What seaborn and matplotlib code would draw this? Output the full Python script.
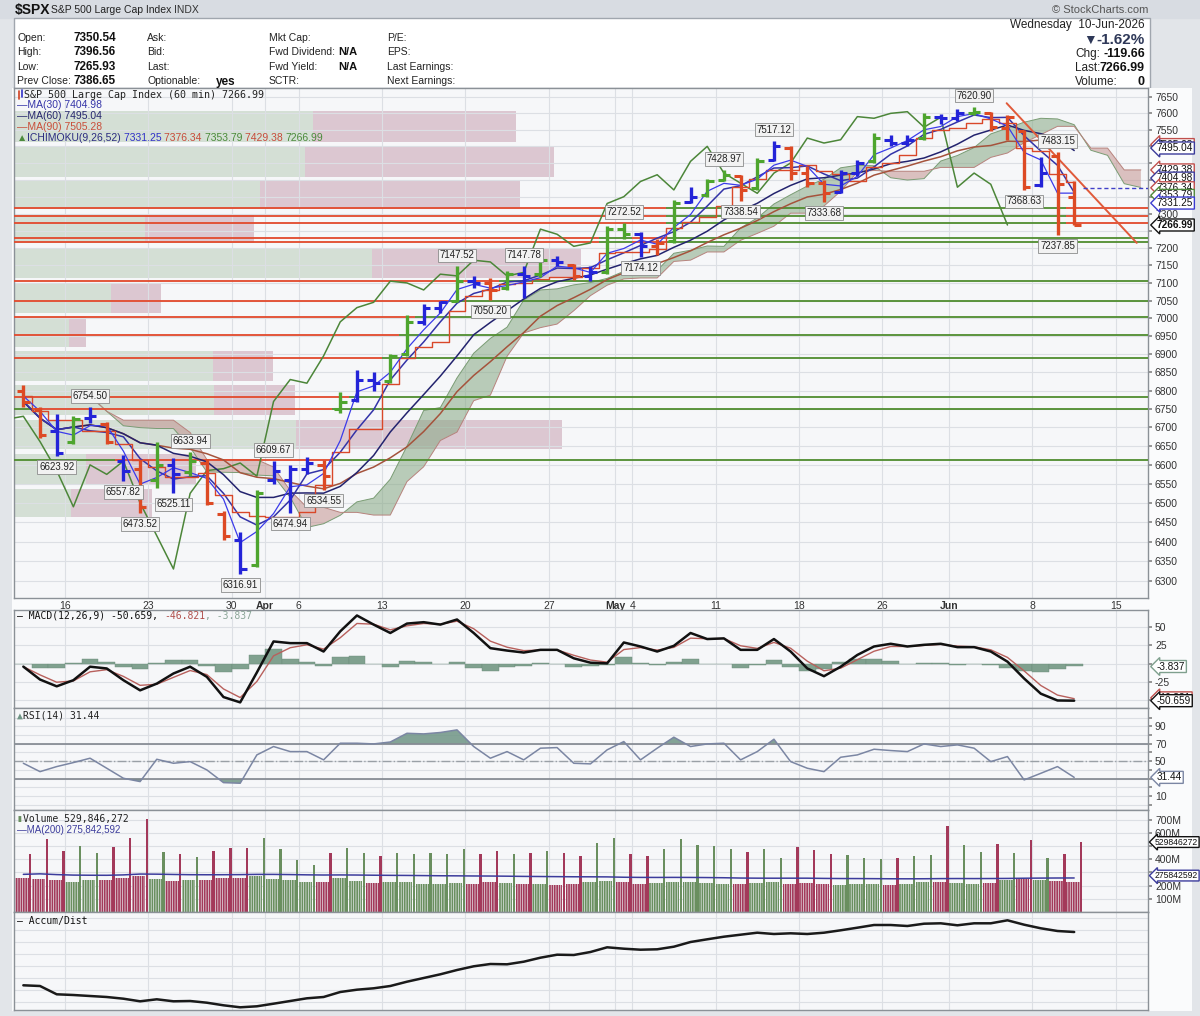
import numpy as np
import pandas as pd
import matplotlib
matplotlib.use("Agg")
import matplotlib.pyplot as plt
from matplotlib.patches import Rectangle
from matplotlib.ticker import NullLocator
import seaborn as sns

sns.set_theme(style="white")
plt.rcParams["font.family"] = ["Liberation Sans", "DejaVu Sans"]
plt.rcParams["hatch.linewidth"] = 0.5

W, H = 1200, 1016
MONO = ["DejaVu Sans Mono", "DejaVu Sans"]

holidays = ["2026-04-03", "2026-05-25"]

open_ = [6800, 6750, 6690, 6660, 6725, 6710, 6610, 6590, 6560, 6600,
         6580, 6605, 6470, 6405, 6340, 6560, 6560, 6590, 6600, 6750,
         6775, 6830, 6825, 6900, 6990, 7030, 7050, 7105, 7100, 7085,
         7125, 7125, 7165, 7150, 7120, 7130, 7255, 7240, 7205, 7220,
         7335, 7355, 7398, 7410, 7375, 7460, 7495, 7420, 7390, 7365,
         7420, 7455, 7520, 7510, 7525, 7590, 7585, 7600, 7600, 7555,
         7545, 7385, 7470, 7350.54]
high = [6815, 6755, 6735, 6730, 6754.50, 6715, 6625, 6612, 6660, 6618,
        6633.94, 6615, 6478, 6425, 6535, 6609.67, 6600, 6620, 6612, 6795,
        6855, 6850, 6900, 7010, 7040, 7050, 7147.52, 7120, 7115, 7135,
        7147.78, 7172, 7178, 7155, 7148, 7265, 7272.52, 7248, 7225, 7340,
        7380, 7402, 7428.97, 7415, 7465, 7517.12, 7500, 7440, 7400, 7430,
        7460, 7540, 7535, 7535, 7600, 7598, 7612, 7620.90, 7605, 7595,
        7550, 7468, 7483.15, 7396.56]
low = [6755, 6672, 6623.92, 6655, 6712, 6655, 6557.82, 6473.52, 6540, 6525.11,
       6570, 6495, 6405, 6316.91, 6335, 6550, 6474.94, 6575, 6534.55, 6738,
       6770, 6800, 6820, 6895, 6980, 7015, 7045, 7085, 7050.20, 7080,
       7058, 7118, 7148, 7108, 7105, 7125, 7225, 7174.12, 7180, 7215,
       7330, 7350, 7395, 7338.54, 7370, 7455, 7400, 7380, 7333.68, 7360,
       7410, 7450, 7500, 7500, 7520, 7568, 7578, 7595, 7545, 7518,
       7368.63, 7380, 7237.85, 7265.93]
close = [6770, 6680, 6632, 6722, 6730, 6662, 6585, 6490, 6600, 6575,
         6610, 6500, 6415, 6330, 6525, 6585, 6590, 6605, 6570, 6770,
         6830, 6820, 6895, 6990, 7030, 7045, 7105, 7100, 7080, 7125,
         7120, 7165, 7160, 7120, 7130, 7255, 7240, 7205, 7215, 7330,
         7350, 7395, 7415, 7370, 7455, 7500, 7420, 7390, 7360, 7420,
         7450, 7525, 7510, 7520, 7590, 7585, 7600, 7605, 7558, 7588,
         7378, 7420, 7386.65, 7266.99]
# elder-impulse bar colour seen on each day (g / b / r)
impulse = list("rrbgbrbrgb" "grrbgbbbrg" "bbggbbgbrg" "bgbrbggbrg"
               "bggrgbrrrb" "bgbbgbbgrr" "rbrr")

macd = [-4, -21.7, -31, -22.6, -4.1, -6.5, -22.6, -36.5, -27.3, -13.4,
        -4.1, -18, -45.7, -53, -12, 30.5, 28.2, 28.2, 16.7, 44.4,
        66.1, 53.6, 42.1, 55, 56.9, 53.6, 60.6, 42.1, 21.3, 18,
        15.3, 19, 19, 7.4, 1.4, 0.5, 29.1, 23.6, 16.7, 24.5,
        42.1, 33.8, 34.7, 19, 19, 33.8, 16.7, -6.5, -17.1, -4.1,
        12, 23.6, 27.3, 23.6, 25.9, 27.3, 22.7, 22.7, 16.7, 2.8,
        -20.3, -41.1, -50.4, -50.66]
rsi = [47.6, 38, 43.8, 48.4, 53.4, 41.9, 30.4, 26.6, 52.2, 47.6,
       49.5, 40, 25.4, 24.7, 57.2, 66.8, 61, 61, 51.5, 70.6,
       70.6, 69.8, 72, 82, 81.3, 82.9, 85.9, 66.8, 53.4, 61,
       51.5, 64.9, 65.6, 47.6, 46.9, 63, 72.5, 51.5, 64.9, 77.5,
       66.8, 69.8, 70.6, 51.5, 61, 75.2, 49.5, 41.9, 38, 54.5,
       57.2, 63.7, 62.2, 61, 69.8, 66.8, 68.7, 64.9, 49.5, 55.3,
       28.5, 36.1, 43.8, 31.44]
# hourly volume in millions: closing-hour spike and the usual hourly level
vol_close = [437, 550, 462, 500, 450, 492, 563, 707, 455, 437,
             419, 462, 482, 482, 558, 475, 391, 354, 450, 482,
             450, 424, 450, 437, 450, 442, 475, 437, 462, 437,
             450, 462, 450, 424, 520, 563, 437, 424, 475, 550,
             505, 500, 475, 455, 475, 412, 492, 470, 442, 434,
             407, 399, 412, 424, 432, 652, 505, 457, 513, 450,
             543, 412, 442, 530]
vol_hour = [260, 250, 240, 230, 245, 240, 255, 270, 250, 235,
            240, 245, 255, 260, 270, 250, 240, 230, 225, 260,
            235, 220, 225, 230, 215, 210, 220, 215, 225, 220,
            215, 210, 205, 215, 225, 235, 225, 215, 220, 230,
            225, 220, 215, 210, 220, 225, 215, 220, 210, 205,
            215, 210, 205, 210, 225, 230, 220, 215, 220, 240,
            250, 245, 235, 230]
accum_dist = [26.7, 26.0, 17.7, 17.0, 16.0, 15.0, 13.3, 10.7, 12.7, 10.7,
              11.0, 9.3, 6.7, 4.7, 5.7, 8.3, 11.0, 13.7, 15.0, 20.0,
              22.3, 23.7, 26.0, 30.3, 34.0, 37.7, 42.0, 45.7, 48.0, 47.7,
              50.3, 54.3, 57.3, 57.0, 60.0, 64.7, 63.3, 62.3, 62.7, 65.3,
              70.0, 72.7, 75.3, 77.3, 79.3, 78.0, 78.7, 78.0, 79.3, 81.7,
              84.3, 87.0, 87.0, 86.0, 88.3, 88.7, 86.7, 88.7, 88.7, 91.7,
              87.3, 83.7, 81.0, 80.0]

# volume by price zones
vbp_edges = [7613, 7505, 7403, 7306, 7208, 7107, 7009, 6914, 6821, 6727, 6636, 6543, 6458]
vbp_up = [29.8, 29.0, 24.5, 13.1, 35.7, 9.7, 5.5, 19.8, 19.9, 28.1, 7.2, 5.7]
vbp_down = [20.2, 24.8, 25.9, 10.8, 20.8, 4.9, 1.7, 6.0, 8.1, 26.5, 10.9, 8.1]

# drawn support / resistance levels and the falling trend line
sr_levels = [7316, 7293, 7273, 7229, 7218, 7106, 7050, 7004, 6953, 6889, 6783, 6749, 6612]
trend_day = [59.45, 67.25]
trend_price = [7631, 7215]

high_marks = [4, 10, 15, 26, 30, 36, 42, 45, 57, 62]
low_marks = [2, 6, 7, 9, 13, 16, 18, 28, 37, 43, 48, 60, 62]

ma_last = [7404.98, 7495.04, 7505.28]
ichi_last = [7331.25, 7376.34, 7353.79, 7429.38, 7266.99]
macd_last = [-50.659, -46.821, -3.837]
rsi_last = 31.44
vol_last, vol_ma_last = 529846272, 275842592

# ---- derived series ----
n = len(close)
xd = np.arange(n) + 0.5
s_hi, s_lo, s_cl = pd.Series(high), pd.Series(low), pd.Series(close)
ma30 = s_cl.rolling(4, min_periods=1).mean()
ma60 = s_cl.rolling(9, min_periods=1).mean()
ma90 = s_cl.rolling(13, min_periods=1).mean()
tenkan = (s_hi.rolling(2, min_periods=1).max() + s_lo.rolling(2, min_periods=1).min()) / 2
kijun = (s_hi.rolling(4, min_periods=1).max() + s_lo.rolling(4, min_periods=1).min()) / 2
span_a = ((tenkan + kijun) / 2).to_numpy()
span_b = ((s_hi.rolling(7, min_periods=1).max() + s_lo.rolling(7, min_periods=1).min()) / 2).to_numpy()
shift = 4
macd_s = pd.Series(macd)
signal = macd_s.ewm(alpha=0.64, adjust=False).mean()
hist = macd_s - signal
vol_avg = (6 * np.array(vol_hour) + np.array(vol_close)) / 7
vol_ma = pd.Series(vol_avg).rolling(29, min_periods=1).mean()

cal = pd.bdate_range("2026-03-11", "2026-06-17")
cal = cal[~cal.isin(pd.to_datetime(holidays))]
tick_pos, tick_lab, tick_month = [], [], []
for i in range(1, len(cal)):
    d, p = cal[i], cal[i - 1]
    if d.month != p.month:
        tick_pos.append(i); tick_lab.append(d.strftime("%b")); tick_month.append(True)
    elif d.isocalendar().week != p.isocalendar().week:
        tick_pos.append(i); tick_lab.append(str(d.day)); tick_month.append(False)

X0 = (14 - 15) / 16.68
X1 = (1148 - 15) / 16.68

G_BAR, B_BAR, R_BAR = "#4ea52e", "#2424d8", "#dd4a24"
GREEN_L, RED_L = "#4f8c2f", "#e2492c"
VG, VR = "#6a8f5f", "#a3395a"

fig = plt.figure(figsize=(W / 100, H / 100), dpi=100)
fig.patch.set_facecolor("#e2e5e9")

bg = fig.add_axes([0, 0, 1, 1], zorder=-5)
bg.set_xlim(0, W); bg.set_ylim(H, 0); bg.set_axis_off()
bg.add_patch(Rectangle((0, 0), W, 18, color="#d8dce2"))
bg.add_patch(Rectangle((14, 18), 1136, 70, fc="white", ec="#a0a6ae", lw=1))
bg.add_patch(Rectangle((12, 88), 1180, 923, fc="#fafbfc", ec="none"))


def panel(y0, y1, log=False):
    a = fig.add_axes([14 / W, 1 - y1 / H, (1148 - 14) / W, (y1 - y0) / H])
    if log:
        a.set_yscale("log")
        a.yaxis.set_minor_locator(NullLocator())
    a.set_facecolor("#f6f7f9")
    for s in a.spines.values():
        s.set_color("#8b9197"); s.set_linewidth(1)
    a.set_xlim(X0, X1)
    a.set_xticks(tick_pos)
    a.grid(True, color="#dcdfe4", lw=0.8)
    a.set_axisbelow(True)
    a.yaxis.tick_right()
    a.tick_params(axis="y", length=3, pad=2, labelsize=7.5, labelcolor="#333", color="#888")
    a.tick_params(axis="x", length=0, labelbottom=False)
    return a


def tag(a, val, txt, ec, bold=False, size=7.2, dx=9):
    a.annotate(txt, xy=(1, val), xycoords=a.get_yaxis_transform(), xytext=(dx, 0),
               textcoords="offset pixels", ha="left", va="center", fontsize=size,
               fontweight="bold" if bold else "normal", color="#111",
               bbox=dict(boxstyle="larrow,pad=0.1", fc="white", ec=ec, lw=1.0),
               annotation_clip=False, zorder=10)


def tick_labels(ticks, tag_vals, to_px, fmt):
    # a tick label that would sit under a value tag is left blank
    return ["" if any(abs(to_px(t) - to_px(v)) < 9 for v in tag_vals) else fmt(t) for t in ticks]


# ---- price panel ----
ax = panel(88, 598, log=True)
main_tags = [ma_last[2], ma_last[1], ichi_last[3], ma_last[0], ichi_last[1], ichi_last[2], ichi_last[0], ichi_last[4]]
ytk = np.arange(6300, 7651, 50)
ax.set_yticks(ytk)
ax.set_yticklabels(tick_labels(ytk, main_tags, lambda v: 2492 * np.log(v), lambda v: str(v)))
ax.yaxis.set_minor_locator(NullLocator())
ax.set_xticklabels(tick_lab)
ax.tick_params(axis="x", labelbottom=True, labelsize=7.5, pad=2, labelcolor="#333")
for lab, m in zip(ax.get_xticklabels(), tick_month):
    if m:
        lab.set_fontweight("bold")

vb_tot = np.array(vbp_up) + np.array(vbp_down)
scale = 0.5 / vb_tot.max()
ytr = ax.get_yaxis_transform()
for k in range(len(vbp_up)):
    hi, lo = vbp_edges[k] / 1.0009, vbp_edges[k + 1] * 1.0009
    fu, fd = vbp_up[k] * scale, vbp_down[k] * scale
    ax.add_patch(Rectangle((0, lo), fu, hi - lo, transform=ytr, fc="#9fb89b", alpha=0.38, lw=0, zorder=0.4))
    ax.add_patch(Rectangle((fu, lo), fd, hi - lo, transform=ytr, fc="#b27a90", alpha=0.38, lw=0, zorder=0.4))

xs = xd + shift
ax.fill_between(xs, span_a, span_b, where=span_a >= span_b, interpolate=True, color="#86a883", alpha=0.55, lw=0, zorder=1)
ax.fill_between(xs, span_a, span_b, where=span_a < span_b, interpolate=True, color="#c39490", alpha=0.55, lw=0, zorder=1)
ax.plot(xs, span_a, color="#7a9c74", lw=0.7, zorder=1.2)
ax.plot(xs, span_b, color="#b7837d", lw=0.7, zorder=1.2)

cl = np.asarray(close)
for lev in sr_levels:
    up = cl > lev
    edges = [X0] + [i for i in range(1, n) if up[i] != up[i - 1]] + [X1]
    for k in range(len(edges) - 1):
        state = up[0] if k == 0 else up[edges[k]]
        ax.hlines(lev, edges[k], edges[k + 1], color=GREEN_L if state else RED_L, lw=1.3, zorder=3)

sns.lineplot(x=xd - shift, y=close, ax=ax, color="#4c8639", lw=1.1, zorder=4)
sns.lineplot(x=xd, y=ma90, ax=ax, color="#a5533c", lw=1.1, zorder=4)
sns.lineplot(x=xd, y=ma60, ax=ax, color="#23236e", lw=1.1, zorder=4)
sns.lineplot(x=xd, y=ma30, ax=ax, color="#3333a8", lw=1.1, zorder=4)
ax.plot(xd, kijun, drawstyle="steps-mid", color="#d9482a", lw=1.0, zorder=4)
ax.plot(xd, tenkan, color="#3b3bea", lw=0.9, zorder=4)
ax.plot(trend_day, trend_price, color="#e05a3a", lw=1.4, zorder=4)
ax.hlines(ichi_last[1], n, X1, colors="#4040c8", linestyles=(0, (3, 2)), lw=1, zorder=4)

bar_col = [{"g": G_BAR, "b": B_BAR, "r": R_BAR}[c] for c in impulse]
ax.vlines(xd, low, high, colors=bar_col, lw=2.4, zorder=6)
ax.hlines(open_, xd - 0.38, xd, colors=bar_col, lw=2.2, zorder=6)
ax.hlines(close, xd, xd + 0.38, colors=bar_col, lw=2.2, zorder=6)

box = dict(boxstyle="square,pad=0.18", fc="#f2f2f2", ec="#8c8c8c", lw=0.6)
for d in high_marks:
    ax.annotate(f"{high[d]:.2f}", xy=(d + 0.5, high[d]), xytext=(0, 6), textcoords="offset pixels",
                ha="center", va="bottom", fontsize=7, color="#222", bbox=box, zorder=9)
for d in low_marks:
    ax.annotate(f"{low[d]:.2f}", xy=(d + 0.5, low[d]), xytext=(0, -6), textcoords="offset pixels",
                ha="center", va="top", fontsize=7, color="#222", bbox=box, zorder=9)

for val, ec in [(ma_last[2], "#c0504d"), (ma_last[1], "#3b3b9a"), (ichi_last[3], "#c0504d"),
                (ma_last[0], "#3b3b9a"), (ichi_last[1], "#c0504d"), (ichi_last[2], "#4f8a3c"),
                (ichi_last[0], "#3b3bd0")]:
    tag(ax, val, f"{val:.2f}", ec)
tag(ax, ichi_last[4], f"{ichi_last[4]:.2f}", "#111", bold=True)
ax.set_xlim(X0, X1)
ax.set_ylim(6256.7, 7677.7)

# ---- MACD ----
am = panel(610, 708)
am.bar(xd, hist, width=1.0, color="#80a18f", edgecolor="#6b8d7a", lw=0.3, zorder=2)
sns.lineplot(x=xd, y=signal, ax=am, color="#b8605c", lw=1.0, zorder=3)
sns.lineplot(x=xd, y=macd, ax=am, color="#111", lw=1.8, zorder=4)
mtk = [-50, -25, 0, 25, 50]
am.set_yticks(mtk)
am.set_yticklabels(tick_labels(mtk, macd_last, lambda v: 0.73 * v, lambda v: str(v)))
tag(am, macd_last[2], f"{macd_last[2]:.3f}", "#7fa08e")
tag(am, macd_last[1], f"{macd_last[1]:.3f}", "#c0504d")
tag(am, macd_last[0], f"{macd_last[0]:.3f}", "#111")
am.set_xlim(X0, X1); am.set_ylim(-60.7, 73.6)

# ---- RSI ----
ar = panel(708, 810)
rs = np.asarray(rsi)
ar.fill_between(xd, rs, 70, where=rs > 70, interpolate=True, color="#6f9585", alpha=0.85, lw=0, zorder=2)
ar.fill_between(xd, rs, 30, where=rs < 30, interpolate=True, color="#6f9585", alpha=0.85, lw=0, zorder=2)
ar.axhline(70, color="#80868e", lw=1.2, zorder=2)
ar.axhline(30, color="#80868e", lw=1.2, zorder=2)
ar.axhline(50, color="#9aa0a6", lw=1.0, ls="-.", zorder=2)
sns.lineplot(x=xd, y=rs, ax=ar, color="#7b86a3", lw=1.1, zorder=3)
rtk = np.arange(0, 101, 10)
ar.set_yticks(rtk)
ar.set_yticklabels(tick_labels(rtk, [rsi_last], lambda v: 0.87 * v,
                               lambda v: str(v) if v in (10, 30, 50, 70, 90) else ""))
tag(ar, rsi_last, f"{rsi_last:.2f}", "#7b86a3")
ar.set_xlim(X0, X1); ar.set_ylim(-6, 111)

# ---- Volume ----
av = panel(810, 912)
vcol = [VG if c >= o else VR for o, c in zip(open_, close)]
av.bar(np.arange(n) + 0.42, vol_hour, width=0.8, color=vcol, lw=0, hatch="|||||||",
       edgecolor="#e9ecef", zorder=2)
av.bar(np.arange(n) + 0.91, vol_close, width=0.14, color=vcol, lw=0, zorder=2)
sns.lineplot(x=xd, y=vol_ma, ax=av, color="#3c3c9c", lw=1.1, zorder=3)
vtk = np.arange(100, 701, 100)
av.set_yticks(vtk)
av.set_yticklabels(tick_labels(vtk, [vol_last / 1e6, vol_ma_last / 1e6], lambda v: 0.132 * v,
                               lambda v: f"{v}M"))
tag(av, vol_last / 1e6, f"{vol_last}", "#111", size=6.2, dx=7)
tag(av, vol_ma_last / 1e6, f"{vol_ma_last}", "#3c3c9c", size=6.2, dx=7)
av.set_xlim(X0, X1); av.set_ylim(0, 772.7)

# ---- Accum/Dist ----
aa = panel(912, 1010)
sns.lineplot(x=xd, y=accum_dist, ax=aa, color="#1a1a1a", lw=1.8, zorder=3)
aa.set_yticks(np.arange(10, 100, 12))
aa.set_yticklabels([])
aa.tick_params(axis="y", length=0)
aa.set_xlim(X0, X1); aa.set_ylim(2, 100)
for a in (ax, am, ar, av, aa):
    a.set_xlabel(""); a.set_ylabel("")

# ---- texts (overlay in figure pixels) ----
ov = fig.add_axes([0, 0, 1, 1], zorder=30)
ov.set_xlim(0, W); ov.set_ylim(H, 0); ov.set_axis_off()


def chain(x, y, parts, size=7.5, family=None, weight="normal"):
    t = ov.text(x, y, parts[0][0], color=parts[0][1], fontsize=size, family=family,
                fontweight=weight, va="center", ha="left")
    for s, c in parts[1:]:
        t = ov.annotate(s, xy=(1, 0), xycoords=t, va="bottom", ha="left", color=c,
                        fontsize=size, family=family, fontweight=weight)
    return t


ov.text(15, 10, "$SPX", fontsize=10, fontweight="bold", va="center", color="#111")
chain(51, 10, [("S&P 500 Large Cap Index ", "#222"), ("INDX", "#333")], size=7.5)
ov.text(1148, 10, "© StockCharts.com", ha="right", va="center", fontsize=8, color="#555")

rows = [38, 52, 67, 81]
for y, lab, val in zip(rows, ["Open:", "High:", "Low:", "Prev Close:"],
                       ["7350.54", "7396.56", "7265.93", "7386.65"]):
    ov.text(17, y, lab, fontsize=7.5, va="center", color="#222")
    ov.text(74, y, val, fontsize=8.5, va="center", color="#111", fontweight="bold")
for y, lab in zip(rows, ["Ask:", "Bid:", "Last:", "Optionable:"]):
    ov.text(147, y, lab, fontsize=7.5, va="center", color="#222")
ov.text(216, 82, "yes", fontsize=8.5, va="center", fontweight="bold", color="#111")
for y, lab in zip(rows, ["Mkt Cap:", "Fwd Dividend:", "Fwd Yield:", "SCTR:"]):
    ov.text(269, y, lab, fontsize=7.5, va="center", color="#222")
for y in rows[1:3]:
    ov.text(338, y, "N/A", fontsize=8, va="center", fontweight="bold", color="#111")
for y, lab in zip(rows, ["P/E:", "EPS:", "Last Earnings:", "Next Earnings:"]):
    ov.text(387, y, lab, fontsize=7.5, va="center", color="#222")

ov.text(1145, 25, "Wednesday  10-Jun-2026", ha="right", va="center", fontsize=8.5, color="#222")
ov.text(1083, 40, "▼", ha="left", va="center", fontsize=10, color="#2e3858")
ov.text(1145, 40, "-1.62%", ha="right", va="center", fontsize=11, fontweight="bold", color="#2e3858")
for y, lab, val in [(54, "Chg:", "-119.66"), (68, "Last:", "7266.99"), (82, "Volume:", "0")]:
    ov.text(1075, y, lab, ha="left", va="center", fontsize=8.5, color="#222")
    ov.text(1145, y, val, ha="right", va="center", fontsize=9, fontweight="bold", color="#111")

ov.plot([18.5, 18.5], [91, 99], color="#d04020", lw=1.2)
ov.plot([21.5, 21.5], [90, 97], color="#3030c8", lw=1.2)
chain(24, 95, [("S&P 500 Large Cap Index (60 min) 7266.99", "#222")], size=7.2, family=MONO)
for y, lbl, val, c in [(105, "MA(30)", ma_last[0], "#3535a8"), (116, "MA(60)", ma_last[1], "#26266e"),
                       (127, "MA(90)", ma_last[2], "#c94e3a")]:
    ov.text(17, y, f"—{lbl} {val:.2f}", fontsize=7.5, va="center", color=c)
chain(17, 138, [("▲", "#4c8a3c"), ("ICHIMOKU(9,26,52) ", "#2a2a80"), (f"{ichi_last[0]:.2f} ", "#3030c8"),
                (f"{ichi_last[1]:.2f} ", "#c84a3a"), (f"{ichi_last[2]:.2f} ", "#4a8a3a"),
                (f"{ichi_last[3]:.2f} ", "#c84a3a"), (f"{ichi_last[4]:.2f}", "#4a8a3a")], size=7.5)

chain(17, 616, [("— MACD(12,26,9) ", "#111"), (f"{macd_last[0]:.3f}, ", "#111"),
                (f"{macd_last[1]:.3f}", "#b0504c"), (f", {macd_last[2]:.3f}", "#8aa597")], size=7, family=MONO)
chain(17, 716, [("▲", "#6f9585"), (f"RSI(14) {rsi_last:.2f}", "#222")], size=7, family=MONO)
chain(17, 819, [("▮", "#6a8f5f"), (f"Volume {vol_last:,}", "#222")], size=7, family=MONO)
ov.text(17, 830, f"—MA(200) {vol_ma_last:,}", fontsize=7, va="center", color="#3c3c9c")
chain(17, 921, [("— Accum/Dist", "#111")], size=7, family=MONO)

fig.savefig("out.png", dpi=100)
